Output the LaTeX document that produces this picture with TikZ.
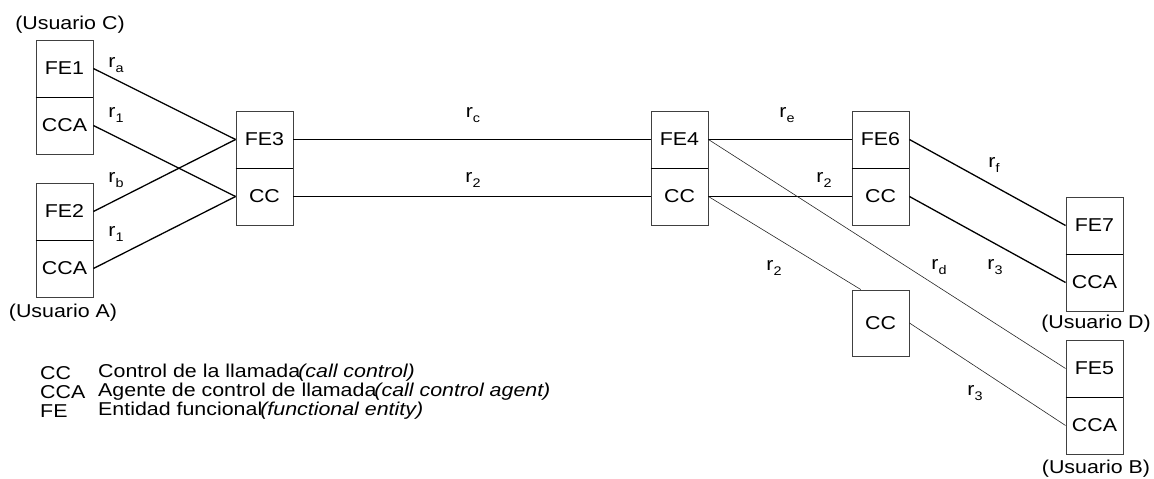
\documentclass[tikz,border=0pt]{standalone}
\usepackage{fontspec}
\setmainfont[FakeStretch=1.15]{Liberation Sans}
\usetikzlibrary{calc}
\newcommand\rsub[1]{r\raisebox{-5pt}{\fontsize{12.5}{12.5}\selectfont #1}}
\begin{document}
\begin{tikzpicture}[x=1pt,y=-1pt,
  every node/.style={font=\fontsize{18.6}{19}\selectfont, inner sep=0pt},
  half/.style={draw=black!75, line width=0.9pt, minimum width=57pt, minimum height=57pt},
  sep/.style={line width=1.3pt, black},
  main/.style={line width=1.3pt, black},
  fine/.style={line width=0.6pt, black!85},
  lab/.style={anchor=center},
  user/.style={anchor=center},
  abbr/.style={anchor=west},
  desc/.style={anchor=west}]
\useasboundingbox (0,0) rectangle (1154,479);

% user C (FE1 / CCA) and user A (FE2 / CCA)
\node[half] (fe1)  at (64.5,68.5)  {FE1};
\node[half] (cca1) at (64.5,125.5) {CCA};
\node[half] (fe2)  at (64.5,211.5) {FE2};
\node[half] (cca2) at (64.5,268.5) {CCA};
\draw[sep] (fe1.south west) -- (fe1.south east);
\draw[sep] (fe2.south west) -- (fe2.south east);
\node[user] (uc) at (70,25)  {(Usuario C)};
\node[user] (ua) at (63,313) {(Usuario A)};

% local exchange FE3 / CC
\node[half] (fe3) at (264.5,139.5) {FE3};
\node[half] (cc3) at (264.5,196.5) {CC};
\draw[sep] (fe3.south west) -- (fe3.south east);

% transit exchange FE4 / CC
\node[half] (fe4) at (679.5,139.5) {FE4};
\node[half] (cc4) at (679.5,196.5) {CC};
\draw[sep] (fe4.south west) -- (fe4.south east);

% FE6 / CC
\node[half] (fe6) at (880.5,139.5) {FE6};
\node[half] (cc6) at (880.5,196.5) {CC};
\draw[sep] (fe6.south west) -- (fe6.south east);

% standalone CC
\node[half, minimum height=66pt] (cc5) at (880.5,323) {CC};

% user D (FE7 / CCA) and user B (FE5 / CCA)
\node[half] (fe7)  at (1094.5,225.5) {FE7};
\node[half] (cca7) at (1094.5,282.5) {CCA};
\draw[sep] (fe7.south west) -- (fe7.south east);
\node[user] (ud) at (1096,324) {(Usuario D)};
\node[half] (fe5)  at (1094.5,368.5) {FE5};
\node[half] (cca5) at (1094.5,425.5) {CCA};
\draw[sep] (fe5.south west) -- (fe5.south east);
\node[user] (ub) at (1096,469) {(Usuario B)};

% relations
\draw[main] (fe1.east)  -- (fe3.west);
\draw[main] (cca1.east) -- (cc3.west);
\draw[main] (fe2.east)  -- (fe3.west);
\draw[main] (cca2.east) -- (cc3.west);
\draw[main] (fe3.east)  -- (fe4.west);
\draw[main] (cc3.east)  -- (cc4.west);
\draw[main] (fe4.east)  -- (fe6.west);
\draw[main] (cc4.east)  -- (cc6.west);
\draw[main] (fe6.east)  -- (fe7.west);
\draw[main] (cc6.east)  -- (cca7.west);
\coordinate (cc5in) at ($(cc5.north west)!0.16!(cc5.north east)$);
\draw[fine] (fe4.east) -- (fe5.west);
\draw[fine] (cc4.east) -- (cc5in);
\draw[fine] (cc5.east) -- (cca5.west);

% relation labels
\node[lab] (la)  at (116,65)  {\rsub{a}};
\node[lab] (l1a) at (116,115) {\rsub{1}};
\node[lab] (lb)  at (116,180) {\rsub{b}};
\node[lab] (l1b) at (116,234) {\rsub{1}};
\node[lab] (lc)  at (473,115) {\rsub{c}};
\node[lab] (l2a) at (473,180) {\rsub{2}};
\node[lab] (le)  at (787,115) {\rsub{e}};
\node[lab] (l2b) at (824,180) {\rsub{2}};
\node[lab] (lf)  at (994,165) {\rsub{f}};
\node[lab] (l2c) at (774,268) {\rsub{2}};
\node[lab] (ld)  at (939,267) {\rsub{d}};
\node[lab] (l3a) at (995,267) {\rsub{3}};
\node[lab] (l3b) at (975,393) {\rsub{3}};

% legend
\node[abbr] (kcc)  at (40,373) {CC};
\node[abbr] (kcca) at (40,392) {CCA};
\node[abbr] (kfe)  at (40,411) {FE};
\node[desc] (dcc)  at (98,373) {Control de la llamada\kern-2pt\textit{(call control)}};
\node[desc] (dcca) at (98,392) {Agente de control de llamada\kern-2pt\textit{(call control agent)}};
\node[desc] (dfe)  at (98,411) {Entidad funcional\kern-2pt\textit{(functional entity)}};
\end{tikzpicture}
\end{document}
